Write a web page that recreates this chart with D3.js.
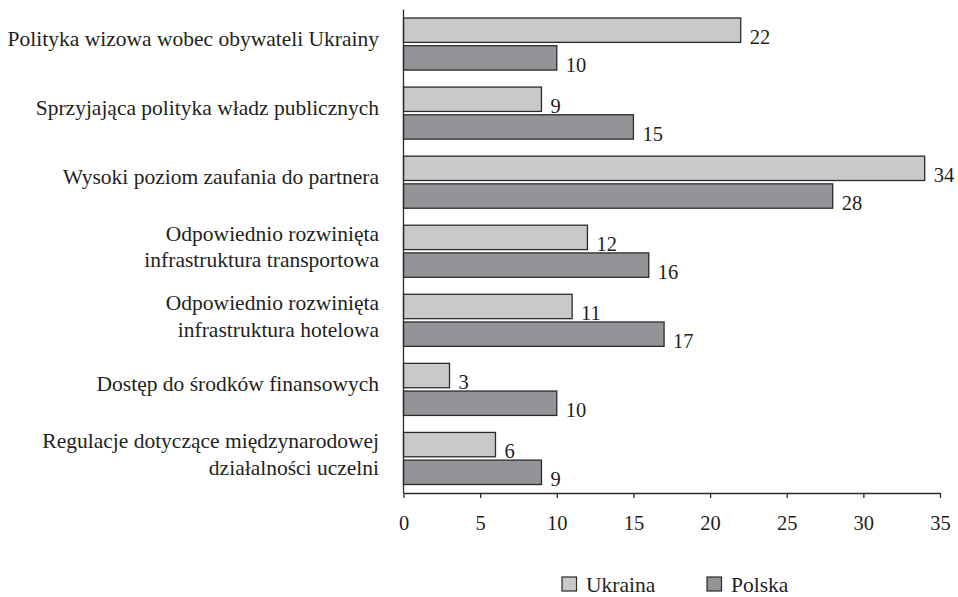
<!DOCTYPE html>
<html>
<head>
<meta charset="utf-8">
<script src="https://cdn.jsdelivr.net/npm/d3@7"></script>
<style>
  html, body { margin: 0; padding: 0; background: #ffffff; }
  svg { display: block; }
</style>
</head>
<body>
<svg id="chart" width="958" height="597"></svg>
<script>
// Factors supporting cooperation, counts by country
const categories = [
  ["Polityka wizowa wobec obywateli Ukrainy"],
  ["Sprzyjająca polityka władz publicznych"],
  ["Wysoki poziom zaufania do partnera"],
  ["Odpowiednio rozwinięta", "infrastruktura transportowa"],
  ["Odpowiednio rozwinięta", "infrastruktura hotelowa"],
  ["Dostęp do środków finansowych"],
  ["Regulacje dotyczące międzynarodowej", "działalności uczelni"]
];
const seriesNames = ["Ukraina", "Polska"];
const ukrainaValues = [22, 9, 34, 12, 11, 3, 6];
const polskaValues = [10, 15, 28, 16, 17, 10, 9];
const xTicks = [0, 5, 10, 15, 20, 25, 30, 35];
const seriesColors = ["#c8c9cb", "#939497"];

const FONT = "Liberation Serif";
const INK = "#231f20";
const LINE = "#2b2b2b";
const FS_LABEL = 21.5;
const FS_NUM = 20.5;

const svg = d3.select("#chart");
const margin = { top: 9.5, left: 403.5 };
const plotW = 536.5;
const plotH = 483.5;

const g = svg.append("g").attr("transform", `translate(${margin.left},${margin.top})`);

const x = d3.scaleLinear().domain([0, 35]).range([0, plotW]);
const y0 = d3.scaleBand().domain(d3.range(categories.length)).range([0, plotH]);
const y1 = d3.scaleBand().domain(seriesNames).range([8.5, y0.bandwidth() - 8.5]).paddingInner(0.12);

const rows = categories.map((c, i) => ({
  i,
  label: c,
  values: [
    { key: "Ukraina", v: ukrainaValues[i] },
    { key: "Polska", v: polskaValues[i] }
  ]
}));

const groups = g.selectAll(".grp").data(rows).join("g")
  .attr("class", "grp")
  .attr("transform", d => `translate(0,${y0(d.i)})`);

groups.selectAll("rect").data(d => d.values).join("rect")
  .attr("x", x(0))
  .attr("y", d => y1(d.key))
  .attr("width", d => x(d.v) - x(0))
  .attr("height", y1.bandwidth())
  .attr("fill", (d, j) => seriesColors[j])
  .attr("stroke", LINE)
  .attr("stroke-width", 1.3);

// Value labels at the end of each bar
groups.selectAll(".val").data(d => d.values).join("text")
  .attr("class", "val")
  .attr("x", d => x(d.v) + 9)
  .attr("y", d => y1(d.key) + y1.bandwidth() + 1.5)
  .attr("font-family", FONT)
  .attr("font-size", FS_NUM)
  .attr("fill", INK)
  .text(d => d.v);

// Category labels, right-aligned left of the axis
groups.append("text")
  .attr("text-anchor", "end")
  .attr("font-family", FONT)
  .attr("font-size", FS_LABEL)
  .attr("fill", INK)
  .each(function (d) {
    const t = d3.select(this);
    const n = d.label.length;
    const lh = 26.7;
    const cy = y0.bandwidth() / 2;
    const first = n === 1 ? cy + 2 : cy - 10.5;
    d.label.forEach((line, k) => {
      t.append("tspan")
        .attr("x", -24.5)
        .attr("y", first + k * lh)
        .text(line);
    });
  });

// Vertical category axis line
g.append("line")
  .attr("x1", 0).attr("x2", 0)
  .attr("y1", 0).attr("y2", plotH)
  .attr("stroke", LINE).attr("stroke-width", 1.3);

// Bottom value axis
const xAxis = g.append("g")
  .attr("transform", `translate(0,${plotH})`)
  .call(d3.axisBottom(x).tickValues(xTicks).tickSize(5).tickSizeOuter(0).tickPadding(17.5));
xAxis.select(".domain").attr("stroke", LINE).attr("stroke-width", 1.3);
xAxis.selectAll(".tick line").attr("stroke", LINE).attr("stroke-width", 1.3);
xAxis.selectAll(".tick text")
  .attr("font-family", FONT)
  .attr("font-size", FS_NUM)
  .attr("fill", INK);

// Legend
const legend = svg.append("g").attr("transform", "translate(562,577)");
const legendItems = legend.selectAll("g").data(seriesNames).join("g")
  .attr("transform", (d, i) => `translate(${i * 145},0)`);
legendItems.append("rect")
  .attr("width", 14.5).attr("height", 14)
  .attr("fill", (d, i) => seriesColors[i])
  .attr("stroke", LINE).attr("stroke-width", 1.2);
legendItems.append("text")
  .attr("x", 24).attr("y", 14.5)
  .attr("font-family", FONT)
  .attr("font-size", FS_LABEL)
  .attr("fill", INK)
  .text(d => d);
</script>
</body>
</html>
